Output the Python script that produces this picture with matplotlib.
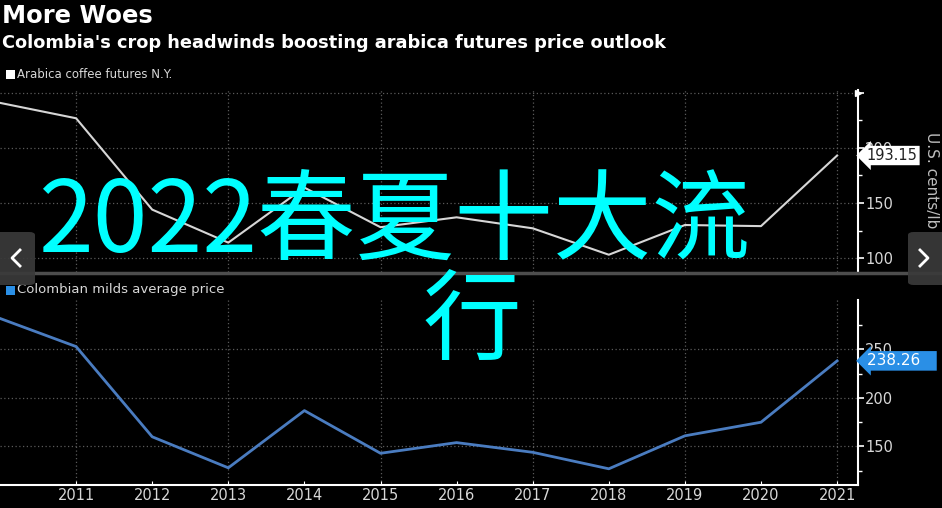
import matplotlib
matplotlib.use("Agg")
import matplotlib.pyplot as plt
from matplotlib.patches import Rectangle, FancyBboxPatch
from matplotlib.lines import Line2D

# Data
years = [2010, 2011, 2012, 2013, 2014, 2015, 2016, 2017, 2018, 2019, 2020, 2021]
arabica = [241, 227, 144, 114, 164, 128, 137, 127, 103, 130, 129, 193.15]
colombian = [282, 253, 160, 128, 187, 143, 154, 144, 127, 161, 175, 238.26]
grid_years = [2011, 2013, 2015, 2017, 2019, 2021]

W, H = 942, 508
BG = "black"
GRID = "#5a5a5a"
TXT = "#d8d8d8"
BLUE_LINE = "#4a7cc0"
BLUE_BOX = "#2a8fe6"

fig = plt.figure(figsize=(W / 100, H / 100), dpi=100, facecolor=BG)


def fx(px):
    return px / W


def fy(py):
    return 1 - py / H


def style_axis(ax, hlines, major, minor, labels):
    ax.set_facecolor(BG)
    for s in ["top", "left", "bottom"]:
        ax.spines[s].set_visible(False)
    ax.spines["right"].set_color("white")
    ax.spines["right"].set_linewidth(1.5)
    ax.yaxis.tick_right()
    ax.set_yticks(major)
    ax.set_yticklabels(labels)
    ax.set_yticks(minor, minor=True)
    ax.tick_params(axis="y", which="major", colors="white", length=4, width=1.2,
                   labelcolor=TXT, labelsize=10.5, pad=1)
    ax.tick_params(axis="y", which="minor", colors="white", length=3, width=1)
    for v in hlines:
        ax.axhline(v, color=GRID, lw=0.9, ls=(0, (1, 2)), zorder=1)
    for yr in grid_years:
        ax.axvline(yr, color=GRID, lw=0.9, ls=(0, (1, 2)), zorder=1)
    ax.set_xlim(2010, 2010 + 858 / 76.1)


# top panel
ax1 = fig.add_axes([0, fy(272), fx(858), 182 / H])
ax1.plot(years, arabica, color="#d6d6d6", lw=1.5, zorder=3)
ax1.set_ylim(87.3, 252.7)
style_axis(ax1, [100, 150, 200, 250], [100, 150, 200, 250], [125, 175, 225],
           ["100", "150", "200", ""])
ax1.tick_params(axis="x", length=0, labelbottom=False)
ax1.text(1.01, arabica[-1], "193.15", transform=ax1.get_yaxis_transform(),
         ha="left", va="center", fontsize=10.5, color="#222222", clip_on=False, zorder=10,
         bbox=dict(boxstyle="larrow,pad=0.15", fc="white", ec="none"))
ax1.plot([1.0], [250], marker=">", ms=5, color="white", transform=ax1.get_yaxis_transform(),
         clip_on=False)

# bottom panel
ax2 = fig.add_axes([0, fy(485), fx(858), 185 / H])
ax2.plot(years, colombian, color=BLUE_LINE, lw=2, zorder=3)
ax2.set_ylim(110.3, 301)
style_axis(ax2, [150, 200, 250], [150, 200, 250], [125, 175, 225, 275],
           ["150", "200", "250"])
ax2.spines["bottom"].set_visible(True)
ax2.spines["bottom"].set_color("white")
ax2.spines["bottom"].set_linewidth(1.5)
ax2.set_xticks(years[1:])
ax2.set_xticklabels([str(y) for y in years[1:]])
ax2.tick_params(axis="x", colors="white", direction="in", length=3, labelcolor=TXT,
                labelsize=10.5, pad=2)
ax2.text(1.01, colombian[-1], "238.26   ", transform=ax2.get_yaxis_transform(),
         ha="left", va="center", fontsize=11, color="white", clip_on=False, zorder=10,
         bbox=dict(boxstyle="larrow,pad=0.15", fc=BLUE_BOX, ec="none"))

# titles and legends
fig.text(fx(2), fy(16), "More Woes", fontsize=17.5, fontweight="bold", color="white",
         ha="left", va="center")
fig.text(fx(2), fy(43), "Colombia's crop headwinds boosting arabica futures price outlook",
         fontsize=12.8, fontweight="bold", color="white", ha="left", va="center")
fig.patches.append(Rectangle((fx(6), fy(79)), fx(9), 9 / H, transform=fig.transFigure,
                             fc="white", ec="none"))
fig.text(fx(17), fy(74), "Arabica coffee futures N.Y.", fontsize=8.5, color=TXT,
         ha="left", va="center")
fig.patches.append(Rectangle((fx(6), fy(295)), fx(9), 9 / H, transform=fig.transFigure,
                             fc=BLUE_BOX, ec="none"))
fig.text(fx(17), fy(290), "Colombian milds average price", fontsize=9.5, color=TXT,
         ha="left", va="center")
fig.text(fx(932), fy(180), "U.S. cents/lb", rotation=270, fontsize=11, color="#bdbdbd",
         ha="center", va="center")

# separator between panels
fig.add_artist(Line2D([0, 1], [fy(273), fy(273)], transform=fig.transFigure,
                      color="#4d4d4d", lw=2.5))

# overlay caption
fig.text(fx(394), fy(225), "2022春夏十大流", fontsize=71, color="#00ffff",
         family=["Noto Sans CJK SC", "DejaVu Sans"], ha="center", va="center", zorder=20)
fig.text(fx(472), fy(324), "行", fontsize=71, color="#00ffff",
         family=["Noto Sans CJK SC", "DejaVu Sans"], ha="center", va="center", zorder=20)

# nav buttons
for x0, pts in [(-8, [(20, 250), (12, 258), (20, 266)]),
                (908, [(920, 250), (928, 258), (920, 266)])]:
    fig.patches.append(FancyBboxPatch((fx(x0), fy(285)), fx(43), 53 / H,
                                      boxstyle="round,pad=0,rounding_size=0.006",
                                      transform=fig.transFigure, fc="#3a3a3a", ec="none",
                                      alpha=0.92, zorder=30))
    fig.add_artist(Line2D([fx(p[0]) for p in pts], [fy(p[1]) for p in pts],
                          transform=fig.transFigure, color="white", lw=2, zorder=31))

fig.savefig("out.png", dpi=100, facecolor=BG)
